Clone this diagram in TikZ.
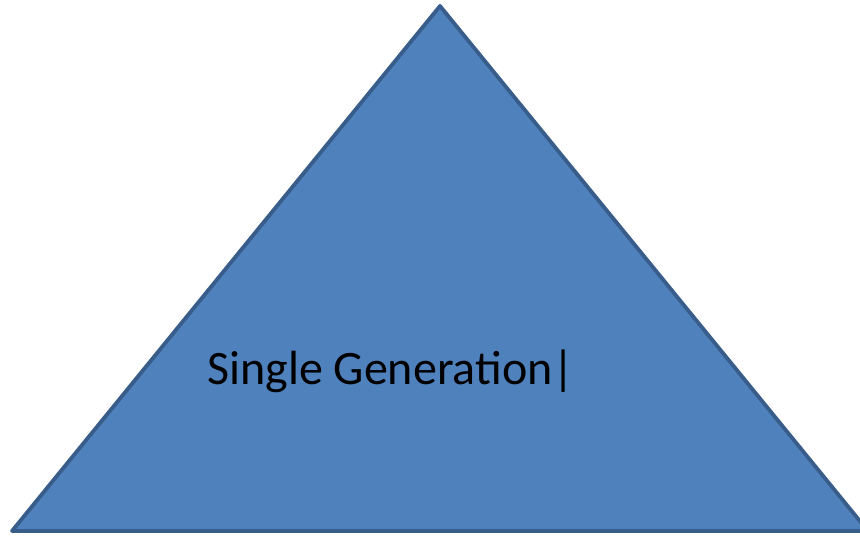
\documentclass[tikz,border=0pt]{standalone}
\usepackage{fontspec}
\setmainfont{Carlito}
\usetikzlibrary{calc}
\definecolor{pyramidBlue}{RGB}{79,129,189}
\definecolor{pyramidEdge}{RGB}{56,93,138}

\begin{document}
\begin{tikzpicture}[x=1pt,y=-1pt]
\useasboundingbox (0,0) rectangle (860,538);
\coordinate (apex) at (440,6);
\coordinate (left) at (12,531);
\coordinate (right) at (868,531);
\draw[line width=3.8pt,line join=round,draw=pyramidEdge,fill=pyramidBlue] (apex) -- (left) -- (right) -- cycle;
\node[anchor=base west,inner sep=0pt,font=\fontsize{48}{52}\selectfont] (gen) at (207,384) {Single Generation|};
\end{tikzpicture}
\end{document}
